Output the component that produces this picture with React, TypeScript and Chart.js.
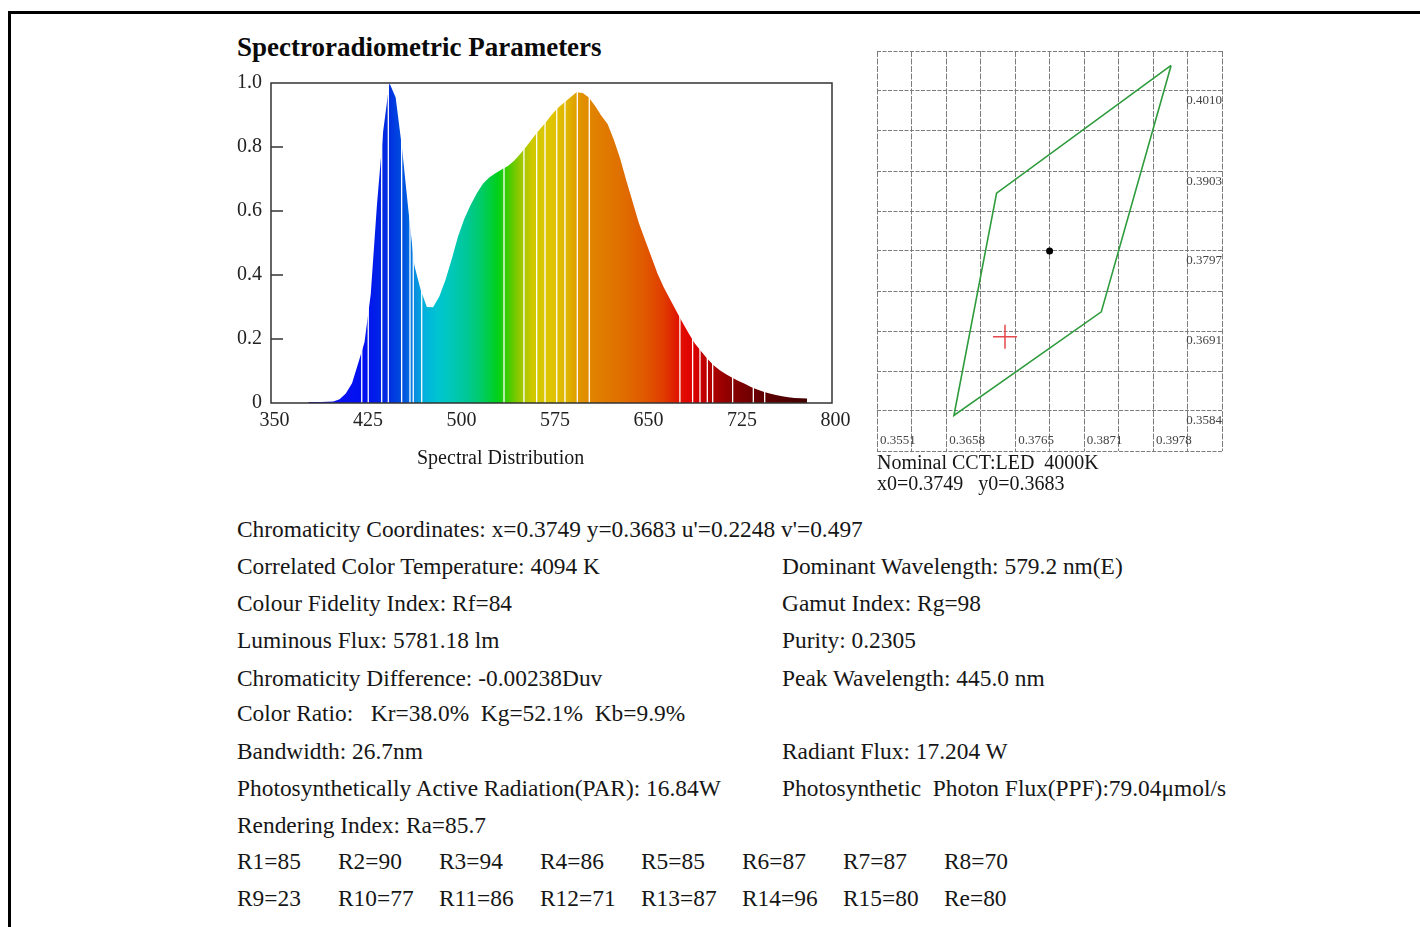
import React, { useEffect, useRef } from 'react';
import { Chart, registerables } from 'chart.js';

Chart.register(...registerables);

// ---------- Spectral distribution data ----------
const wavelengths = [
  380, 385, 390, 395, 400, 405, 410, 415, 420, 425, 430, 435, 440, 445, 450, 455, 460, 465, 470, 475,
  480, 485, 490, 495, 500, 505, 510, 515, 520, 525, 530, 535, 540, 545, 550, 555, 560, 565, 570, 575,
  580, 585, 590, 595, 600, 605, 610, 615, 620, 625, 630, 635, 640, 645, 650, 655, 660, 665, 670, 675,
  680, 685, 690, 695, 700, 705, 710, 715, 720, 725, 730, 735, 740, 745, 750, 755, 760, 765, 770, 775, 780,
];
const relIntensity = [
  0.003, 0.003, 0.003, 0.004, 0.005, 0.012, 0.03, 0.062, 0.125, 0.19, 0.34, 0.62, 0.85, 1.0, 0.955, 0.8, 0.61, 0.43, 0.355, 0.3,
  0.299, 0.333, 0.385, 0.45, 0.52, 0.575, 0.618, 0.655, 0.685, 0.705, 0.718, 0.73, 0.741, 0.757, 0.779, 0.802, 0.828, 0.852, 0.875, 0.9,
  0.922, 0.938, 0.955, 0.971, 0.969, 0.955, 0.928, 0.898, 0.872, 0.823, 0.765, 0.695, 0.63, 0.563, 0.51, 0.458, 0.405, 0.362, 0.325, 0.288,
  0.252, 0.218, 0.186, 0.162, 0.138, 0.118, 0.102, 0.09, 0.079, 0.069, 0.06, 0.05, 0.042, 0.035, 0.03, 0.025, 0.021, 0.018, 0.016, 0.015, 0.014,
];
// wavelengths where the sampled bars leave thin white gaps
const gapWavelengths = [
  422.8, 428, 438.8, 444.1, 454.8, 461.5, 464.1, 470.9, 536.9, 552.9, 563.1, 569.8, 579.2, 585.8, 595.7, 605.3,
  678, 688.2, 694.1, 700, 704.3, 720.3, 736.9, 746,
];
const spectrumXMin = 350;
const spectrumXMax = 800;
const spectrumXStep = 75;
const spectrumYMin = 0;
const spectrumYMax = 1;
const spectrumYStep = 0.2;

// colour of the spectrum by wavelength
const colorStopWl = [380, 425, 445, 458, 466, 474, 484, 495, 508, 520, 532, 540, 550, 560, 575, 588, 598, 610, 630, 650, 665, 678, 688, 700, 720, 745, 780];
const colorStopHex = [
  '#1414f4', '#0010f0', '#0030e0', '#0058e0', '#0890e0', '#00b4dc', '#00c4d0', '#00c8b8', '#00c894', '#00cc60', '#00d018',
  '#40cc00', '#98c800', '#d0c800', '#e0c400', '#e0b400', '#e09400', '#e08000', '#e07000', '#e05800', '#e03c00', '#e01000',
  '#e00000', '#b80000', '#880000', '#600000', '#420000',
];

// ---------- Chromaticity diagram data ----------
const quadX = [0.4006, 0.3736, 0.367, 0.3898];
const quadY = [0.4044, 0.3874, 0.3578, 0.3716];
const centerX = [0.3818];
const centerY = [0.3797];
const measuredX = [0.3749];
const measuredY = [0.3683];
const chromaXLabels = ['0.3551', '0.3658', '0.3765', '0.3871', '0.3978'];
const chromaYLabels = ['0.3584', '0.3691', '0.3797', '0.3903', '0.4010'];
const chromaXMin = 0.3551;
const chromaXMax = 0.408475;
const chromaYMin = 0.353075;
const chromaYMax = 0.406325;
const chromaGridCount = 11;

// ---------- Text ----------
const titleText = 'Spectroradiometric Parameters';
const spectrumCaption = 'Spectral Distribution';
const nominalLines = ['Nominal CCT:LED  4000K', 'x0=0.3749   y0=0.3683'];
const leftLines = [
  "Chromaticity Coordinates: x=0.3749 y=0.3683 u'=0.2248 v'=0.497",
  'Correlated Color Temperature: 4094 K',
  'Colour Fidelity Index: Rf=84',
  'Luminous Flux: 5781.18 lm',
  'Chromaticity Difference: -0.00238Duv',
  'Color Ratio:   Kr=38.0%  Kg=52.1%  Kb=9.9%',
  'Bandwidth: 26.7nm',
  'Photosynthetically Active Radiation(PAR): 16.84W',
  'Rendering Index: Ra=85.7',
];
const rightLines = [
  '',
  'Dominant Wavelength: 579.2 nm(E)',
  'Gamut Index: Rg=98',
  'Purity: 0.2305',
  'Peak Wavelength: 445.0 nm',
  '',
  'Radiant Flux: 17.204 W',
  'Photosynthetic  Photon Flux(PPF):79.04\u03bcmol/s',
  '',
];
const renderRow1 = ['R1=85', 'R2=90', 'R3=94', 'R4=86', 'R5=85', 'R6=87', 'R7=87', 'R8=70'];
const renderRow2 = ['R9=23', 'R10=77', 'R11=86', 'R12=71', 'R13=87', 'R14=96', 'R15=80', 'Re=80'];

const SERIF = "'Liberation Serif', 'Times New Roman', 'DejaVu Serif', serif";

const zeroPadding = (s: any) => {
  s.paddingTop = 0;
  s.paddingBottom = 0;
  s.paddingLeft = 0;
  s.paddingRight = 0;
};

const specFramePlugin = {
  id: 'specFrame',
  afterDatasetsDraw(chart: any) {
    const { ctx, chartArea: a, scales } = chart;
    ctx.save();
    ctx.strokeStyle = '#ffffff';
    ctx.lineWidth = 1.3;
    gapWavelengths.forEach((w) => {
      const x = scales.x.getPixelForValue(w);
      ctx.beginPath();
      ctx.moveTo(x, a.bottom);
      ctx.lineTo(x, a.top);
      ctx.stroke();
    });
    ctx.strokeStyle = '#333333';
    ctx.lineWidth = 1.5;
    ctx.strokeRect(a.left, a.top, a.right - a.left, a.bottom - a.top);
    scales.y.ticks.forEach((t: any) => {
      if (t.value <= spectrumYMin || t.value >= spectrumYMax) return;
      const y = scales.y.getPixelForValue(t.value);
      ctx.beginPath();
      ctx.moveTo(a.left, y);
      ctx.lineTo(a.left + 12, y);
      ctx.stroke();
    });
    ctx.restore();
  },
};

const chromaLabelPlugin = {
  id: 'chromaLabels',
  afterDraw(chart: any) {
    const { ctx, chartArea: a, scales } = chart;
    ctx.save();
    ctx.font = `13px ${SERIF}`;
    ctx.fillStyle = '#444444';
    ctx.textBaseline = 'middle';
    ctx.textAlign = 'left';
    chromaXLabels.forEach((s) => {
      const x = scales.x.getPixelForValue(parseFloat(s));
      ctx.fillText(s, x + 3, a.bottom - 10);
    });
    ctx.textAlign = 'right';
    chromaYLabels.forEach((s) => {
      const y = scales.y.getPixelForValue(parseFloat(s));
      ctx.fillText(s, a.right, y + 10);
    });
    ctx.restore();
  },
};

function spectrumGradient(ctx: any) {
  const chart = ctx.chart;
  const { chartArea, scales } = chart;
  if (!chartArea || !scales || !scales.x) return colorStopHex[0];
  const first = colorStopWl[0];
  const last = colorStopWl[colorStopWl.length - 1];
  const x0 = scales.x.getPixelForValue(first);
  const x1 = scales.x.getPixelForValue(last);
  const g = chart.ctx.createLinearGradient(x0, 0, x1, 0);
  colorStopWl.forEach((w, i) => g.addColorStop((w - first) / (last - first), colorStopHex[i]));
  return g;
}

const textStyle = (left: number, centerY: number, size: number, extra: any = {}) => ({
  position: 'absolute' as const,
  left,
  top: centerY - size / 2,
  fontFamily: SERIF,
  fontSize: size,
  lineHeight: `${size}px`,
  whiteSpace: 'pre' as const,
  color: '#161616',
  ...extra,
});

export default function App() {
  const specRef = useRef<HTMLCanvasElement>(null);
  const chromaRef = useRef<HTMLCanvasElement>(null);

  useEffect(() => {
    const spec = new Chart(specRef.current as HTMLCanvasElement, {
      type: 'line',
      data: {
        datasets: [
          {
            data: wavelengths.map((w, i) => ({ x: w, y: relIntensity[i] })),
            fill: 'origin',
            backgroundColor: spectrumGradient,
            borderColor: 'rgba(0,0,0,0)',
            borderWidth: 0,
            pointRadius: 0,
            tension: 0,
          },
        ],
      },
      options: {
        responsive: false,
        animation: false,
        events: [],
        layout: { autoPadding: false, padding: { left: 0, top: 13, right: 28, bottom: 0 } },
        plugins: { legend: { display: false }, tooltip: { enabled: false } },
        scales: {
          x: {
            type: 'linear',
            min: spectrumXMin,
            max: spectrumXMax,
            grid: { display: false, drawTicks: false },
            border: { display: false },
            ticks: {
              stepSize: spectrumXStep,
              padding: 6,
              labelOffset: 3.5,
              color: '#222222',
              font: { family: SERIF, size: 20 },
              maxRotation: 0,
              autoSkip: false,
            },
            afterFit: (s: any) => {
              s.height = 47;
              zeroPadding(s);
            },
          },
          y: {
            type: 'linear',
            min: spectrumYMin,
            max: spectrumYMax,
            grid: { display: false, drawTicks: false },
            border: { display: false },
            ticks: {
              stepSize: spectrumYStep,
              padding: 9,
              color: '#222222',
              font: { family: SERIF, size: 20 },
              callback: (v: any) => (Number(v) === 0 ? '0' : Number(v).toFixed(1)),
            },
            afterFit: (s: any) => {
              s.width = 51;
              zeroPadding(s);
            },
          },
        },
      } as any,
      plugins: [specFramePlugin],
    });

    const chroma = new Chart(chromaRef.current as HTMLCanvasElement, {
      type: 'scatter',
      data: {
        datasets: [
          {
            data: [...quadX, quadX[0]].map((x, i) => ({ x, y: [...quadY, quadY[0]][i] })),
            showLine: true,
            borderColor: '#2e9b3c',
            borderWidth: 1.6,
            pointRadius: 0,
            fill: false,
            tension: 0,
          },
          {
            data: centerX.map((x, i) => ({ x, y: centerY[i] })),
            pointRadius: 3.5,
            backgroundColor: '#000000',
            borderWidth: 0,
          },
          {
            data: measuredX.map((x, i) => ({ x, y: measuredY[i] })),
            pointStyle: 'cross',
            pointRadius: 12,
            borderColor: '#e5484d',
            borderWidth: 1.5,
          },
        ],
      },
      options: {
        responsive: false,
        animation: false,
        events: [],
        layout: { autoPadding: false, padding: { left: 7, top: 7, right: 8, bottom: 7 } },
        plugins: { legend: { display: false }, tooltip: { enabled: false } },
        scales: {
          x: {
            type: 'linear',
            min: chromaXMin,
            max: chromaXMax,
            grid: { color: '#7c7c7c', lineWidth: 1, drawTicks: false },
            border: { display: false, dash: [6, 1.5] },
            ticks: { display: false, count: chromaGridCount },
            afterFit: (s: any) => {
              s.height = 0;
              zeroPadding(s);
            },
          },
          y: {
            type: 'linear',
            min: chromaYMin,
            max: chromaYMax,
            grid: { color: '#7c7c7c', lineWidth: 1, drawTicks: false },
            border: { display: false, dash: [4, 1.5] },
            ticks: { display: false, count: chromaGridCount },
            afterFit: (s: any) => {
              s.width = 0;
              zeroPadding(s);
            },
          },
        },
      } as any,
      plugins: [chromaLabelPlugin],
    });

    return () => {
      spec.destroy();
      chroma.destroy();
    };
  }, []);

  const lineCenters = [530, 567, 604, 641, 679, 714, 752, 789, 826];
  const rowCenters = [862, 899];
  const rColX = [237, 338, 439, 540, 641, 742, 843, 944];
  const bodySize = 23.4;

  return (
    <div
      style={{
        position: 'absolute',
        left: 0,
        top: 0,
        width: 1420,
        height: 927,
        overflow: 'hidden',
        background: '#ffffff',
      }}
    >
      <div
        style={{
          position: 'absolute',
          left: 8,
          top: 11,
          width: 1500,
          height: 1000,
          borderTop: '3px solid #000',
          borderLeft: '3px solid #000',
        }}
      />
      <div style={textStyle(237, 47.5, 27, { fontWeight: 'bold', color: '#0a0a0a' })}>{titleText}</div>
      <canvas
        ref={specRef}
        width={640}
        height={380}
        style={{ position: 'absolute', left: 220, top: 70, width: 640, height: 380 }}
      />
      <div style={textStyle(417, 457, 20)}>{spectrumCaption}</div>
      <canvas
        ref={chromaRef}
        width={360}
        height={414}
        style={{ position: 'absolute', left: 870, top: 44, width: 360, height: 414 }}
      />
      {nominalLines.map((t, i) => (
        <div key={'n' + i} style={textStyle(877, 462 + i * 21, 20)}>
          {t}
        </div>
      ))}
      {leftLines.map((t, i) =>
        t ? (
          <div key={'l' + i} style={textStyle(237, lineCenters[i], bodySize)}>
            {t}
          </div>
        ) : null
      )}
      {rightLines.map((t, i) =>
        t ? (
          <div key={'r' + i} style={textStyle(782, lineCenters[i], bodySize)}>
            {t}
          </div>
        ) : null
      )}
      {[renderRow1, renderRow2].map((row, ri) =>
        row.map((t, ci) => (
          <div key={'R' + ri + '-' + ci} style={textStyle(rColX[ci], rowCenters[ri], bodySize)}>
            {t}
          </div>
        ))
      )}
    </div>
  );
}
